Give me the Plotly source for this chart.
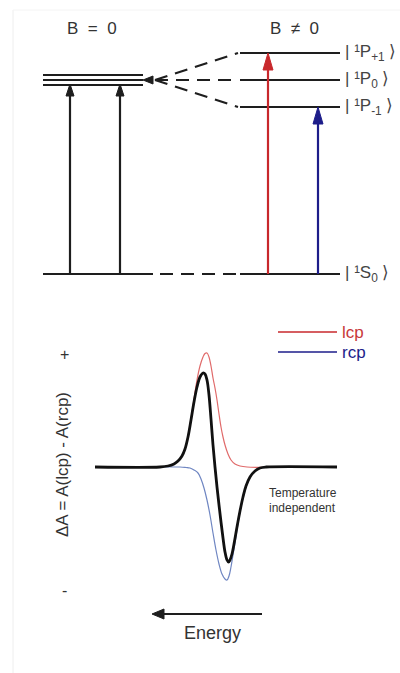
import plotly.graph_objects as go

# ---------------- data ----------------
# Energy-level diagram (arbitrary energy units, ground state = 0)
zero_field_levels = [199, 194, 189]          # degenerate 1P manifold drawn as triple line
zero_field_center = 194
zeeman_names = ["P<sub>+1</sub>", "P<sub>0</sub>", "P<sub>-1</sub>"]
zeeman_levels = [221, 194, 167]
ground_level = 0
zero_field_arrow_x = [70, 120]
lcp_arrow_x = 268        # red arrow -> P+1
rcp_arrow_x = 318        # blue arrow -> P-1

# MCD spectrum (x = position along energy axis, y = absorbance, arbitrary units)
mcd_x = [95, 160, 168, 174, 178, 182, 185, 188, 191, 194, 197, 200, 203, 205, 207, 209, 211,
         213, 215, 217, 219, 221, 223, 225, 227, 228.5, 230, 232, 234, 237, 240, 243, 246,
         250, 255, 260, 266, 337]
mcd_y = [0, 0, 1, 3, 6, 11, 18, 30, 47, 65, 80, 90, 94, 93, 87, 72, 48,
         22, 0, -20, -38, -55, -71, -85, -93, -95, -93, -87, -77, -60, -44, -30, -19,
         -10, -4, -1, 0, 0]
lcp_x = [95, 160, 168, 174, 178, 182, 185, 188, 191, 194, 197, 200, 203, 205, 207, 209, 211,
         213, 215, 217, 219, 221, 223, 225, 228, 231, 235, 240, 247, 337]
lcp_y = [0, 0, 1, 3, 6, 11, 18, 31, 48, 68, 87, 101, 110, 113.5, 114, 110, 101,
         89, 79, 67, 53, 40, 30, 22, 13, 7, 3, 1, 0, 0]
rcp_x = [95, 180, 186, 190, 194, 198, 201, 204, 207, 210, 213, 216, 219, 222, 225, 227, 229,
         231, 233, 235, 237, 240, 243, 246, 250, 255, 260, 266, 337]
rcp_y = [0, 0, -0.5, -1, -3, -6, -12, -21, -33, -48, -66, -83, -97, -107, -112, -113, -109,
         -100, -88, -76, -63, -45, -31, -20, -10, -4, -1, 0, 0]

# ---------------- styling ----------------
FONT = "Liberation Sans, Arial, sans-serif"
DARK = "#1e1e1e"
RED = "#c8282c"
BLUE = "#1d1d8a"
LCP_LINE = "#e06a6a"
RCP_LINE = "#6f86c2"
DASH = "13px,8px"

fig = go.Figure()


def seg(x, y, color=DARK, width=2, dash=None, yaxis="y"):
    fig.add_trace(go.Scatter(x=x, y=y, mode="lines", yaxis=yaxis, hoverinfo="skip",
                             line=dict(color=color, width=width, dash=dash), showlegend=False))


def tri(xs, ys, color, yaxis="y"):
    fig.add_trace(go.Scatter(x=xs + [xs[0]], y=ys + [ys[0]], mode="lines", fill="toself",
                             fillcolor=color, yaxis=yaxis, hoverinfo="skip",
                             line=dict(color=color, width=1), showlegend=False))


def up_arrow(x, y0, y1, color, head_len, head_w, width=2.2):
    seg([x, x], [y0, y1 - head_len + 1], color=color, width=width)
    tri([x - head_w / 2, x + head_w / 2, x], [y1 - head_len, y1 - head_len, y1], color)


# --- zero field (B = 0) ---
for lv in zero_field_levels:
    seg([43, 143], [lv, lv], width=1.8)
tri([143, 153, 153], [zero_field_center, zero_field_center + 4, zero_field_center - 4], DARK)
for ax in zero_field_arrow_x:
    up_arrow(ax, ground_level, zero_field_levels[-1] + 1, DARK, 12, 8)

# dashed correlation lines + Zeeman levels
for lv in zeeman_levels:
    seg([155, 238], [zero_field_center, lv], dash=DASH, width=2.2)
    seg([240, 340], [lv, lv], width=1.8)

# ground state
seg([43, 153], [ground_level, ground_level], width=1.8)
seg([160, 238], [ground_level, ground_level], dash=DASH, width=2.2)
seg([240, 340], [ground_level, ground_level], width=1.8)

# circularly polarised transitions
up_arrow(lcp_arrow_x, ground_level, zeeman_levels[0], RED, 17, 10)
up_arrow(rcp_arrow_x, ground_level, zeeman_levels[2], BLUE, 17, 10)

# --- MCD spectrum ---
for xs, ys, col, w in [(lcp_x, lcp_y, LCP_LINE, 1.2), (rcp_x, rcp_y, RCP_LINE, 1.2),
                       (mcd_x, mcd_y, "#111111", 2.8)]:
    fig.add_trace(go.Scatter(x=xs, y=ys, yaxis="y2", mode="lines", hoverinfo="skip",
                             line=dict(color=col, width=w, shape="spline", smoothing=1.0),
                             showlegend=False))

# legend lines
seg([278, 337], [135, 135], color=RED, width=1.3, yaxis="y2")
seg([278, 337], [115, 115], color=BLUE, width=1.3, yaxis="y2")

# energy arrow
seg([262, 162], [-147, -147], width=2.2, yaxis="y2")
tri([152, 164, 164], [-147, -142, -152], DARK, yaxis="y2")

annotations = []


def text(x, y, s, size=15, color="#333", yref="y", xanchor="center", angle=0):
    annotations.append(dict(x=x, y=y, xref="x", yref=yref, text=s, showarrow=False,
                            xanchor=xanchor, yanchor="middle", textangle=angle,
                            font=dict(family=FONT, size=size, color=color)))


text(92, 246, "B  =  0", size=17)
text(294, 246, "B  ≠  0", size=17)
for name, lv in zip(zeeman_names, zeeman_levels):
    text(343, lv, "| ¹" + name + " ⟩", size=17, color="#444", xanchor="left")
text(343, ground_level, "| ¹S<sub>0</sub> ⟩", size=17, color="#444", xanchor="left")

text(340, 135, "lcp", size=17, color="#c8383a", yref="y2", xanchor="left")
text(340, 115, "rcp", size=17, color=BLUE, yref="y2", xanchor="left")
text(62, 2, "ΔA = A(lcp) - A(rcp)", size=17, color="#333", yref="y2", angle=-90)
text(64, 113, "+", size=16, color="#333", yref="y2")
text(64, -123, "-", size=16, color="#333", yref="y2")
text(267, -26, "Temperature", size=12, color="#333", yref="y2", xanchor="left")
text(267, -41, "independent", size=12, color="#333", yref="y2", xanchor="left")
text(212, -166, "Energy", size=18, color="#333", yref="y2")

fig.update_layout(
    width=400, height=673,
    margin=dict(l=0, r=0, t=0, b=0),
    paper_bgcolor="white", plot_bgcolor="white",
    xaxis=dict(range=[0, 400], visible=False, fixedrange=True),
    yaxis=dict(range=[-399, 274], visible=False, fixedrange=True, domain=[0, 1]),
    yaxis2=dict(range=[-206, 467], visible=False, fixedrange=True, overlaying="y"),
    annotations=annotations,
    shapes=[
        dict(type="line", xref="paper", yref="paper", x0=13 / 400, x1=13 / 400,
             y0=0, y1=1 - 10 / 673, line=dict(color="#eeeeee", width=1)),
        dict(type="line", xref="paper", yref="paper", x0=13 / 400, x1=1,
             y0=1 - 10 / 673, y1=1 - 10 / 673, line=dict(color="#f4f4f4", width=1)),
    ],
    showlegend=False,
)

fig.write_html("out.html")
